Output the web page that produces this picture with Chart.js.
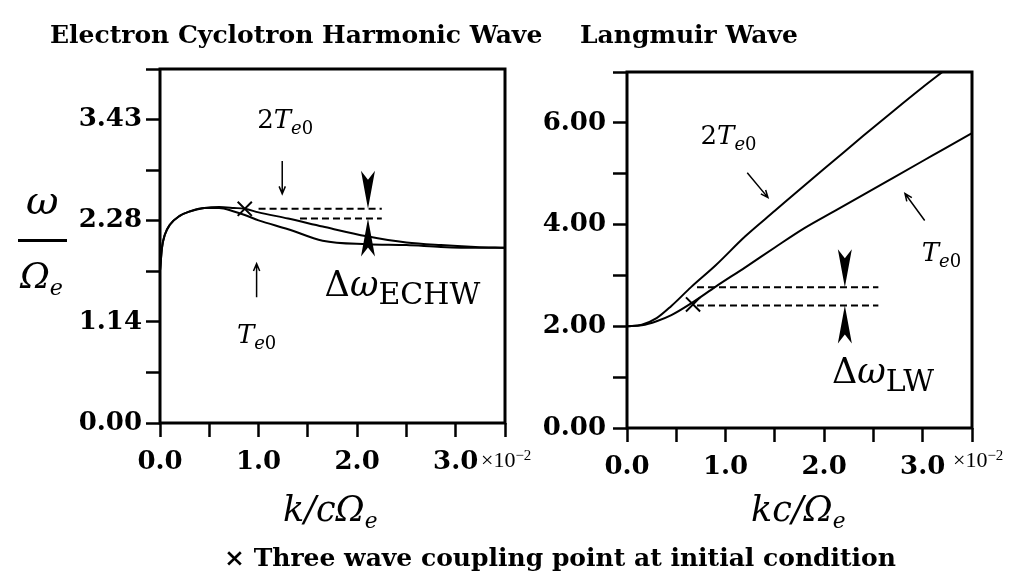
<!DOCTYPE html>
<html lang="en">
<head>
<meta charset="UTF-8">
<title>ECHW and Langmuir wave dispersion</title>
<script src="https://cdn.jsdelivr.net/npm/chart.js"></script>
<style>
    body { margin: 0; background: #fff; }
    #page { position: relative; width: 1025px; height: 572px; overflow: hidden; color: #000; }
    #page canvas { position: absolute; top: 0; }
    .txt { position: absolute; white-space: nowrap; line-height: 1; }
    .title { font: bold 25px "DejaVu Serif"; top: 20px; }
    .math { font-family: "DejaVu Serif"; font-style: italic; }
    .math sub { font-size: 0.62em; vertical-align: -0.3em; }
    .exp { font: 22px "Liberation Serif"; top: 447px; }
    .exp sup { font-size: 0.68em; vertical-align: 0.5em; }
</style>
</head>
<body>
<div id="page">
    <canvas id="echwChart" width="540" height="572" style="left:0"></canvas>
    <canvas id="lwChart" width="485" height="572" style="left:540px"></canvas>

    <div class="txt title" style="left:50px">Electron Cyclotron Harmonic Wave</div>
    <div class="txt title" style="left:580px">Langmuir Wave</div>

    <!-- omega / Omega_e fraction -->
    <div class="txt math" style="left:26px;top:180px;font-size:40px">ω</div>
    <div style="position:absolute;left:18px;top:239px;width:49px;height:2.5px;background:#000"></div>
    <div class="txt math" style="left:20px;top:258px;font-size:36px">Ω<sub>e</sub></div>

    <div class="txt math" style="left:283px;top:492px;font-size:35px">k/cΩ<sub>e</sub></div>
    <div class="txt math" style="left:751px;top:492px;font-size:35px">kc/Ω<sub>e</sub></div>

    <div class="txt exp" style="left:481px">×10<sup>−2</sup></div>
    <div class="txt exp" style="left:953px">×10<sup>−2</sup></div>

    <div class="txt" style="left:224px;top:543px;font:bold 25px 'DejaVu Serif'">× Three wave coupling point at initial condition</div>
</div>
<script>
    // ---- data (k in units of 1e-2) ----
    // Electron cyclotron harmonic wave
    const echwK   = [0.0, 0.02, 0.05, 0.1, 0.2, 0.3, 0.45, 0.6, 0.75, 0.86, 1.0, 1.3, 1.65, 2.1, 2.5, 2.85, 3.2, 3.5];
    const echw2T  = [1.72, 1.98, 2.13, 2.24, 2.34, 2.39, 2.43, 2.44, 2.43, 2.42, 2.38, 2.31, 2.22, 2.11, 2.04, 2.01, 1.99, 1.98];
    const echwT   = [1.72, 1.98, 2.13, 2.24, 2.34, 2.39, 2.43, 2.43, 2.39, 2.35, 2.29, 2.19, 2.06, 2.02, 2.01, 1.99, 1.98, 1.98];
    const echwCoupling = [0.86, 2.42];
    const echwGapLevels = [2.42, 2.31];
    const echwGapFrom = [1.0, 1.42];
    const echwGapTo = 2.25;
    const echwGapK = 2.11;

    // Langmuir wave
    const lwK  = [0.0, 0.15, 0.3, 0.45, 0.65, 0.9, 1.2, 1.5, 1.8, 2.1, 2.4, 2.7, 3.0, 3.2, 3.5];
    const lw2T = [2.0, 2.03, 2.16, 2.40, 2.77, 3.20, 3.77, 4.27, 4.77, 5.26, 5.75, 6.23, 6.70, 7.0, null];
    const lwT  = [2.0, 2.02, 2.10, 2.22, 2.45, 2.78, 3.16, 3.55, 3.93, 4.26, 4.59, 4.92, 5.25, 5.47, 5.80];
    const lwCoupling = [0.67, 2.43];
    const lwGapLevels = [2.77, 2.41];
    const lwGapFrom = [0.71, 0.71];
    const lwGapTo = 2.55;
    const lwGapK = 2.21;

    // ticks
    const xTicks  = [0, 0.5, 1.0, 1.5, 2.0, 2.5, 3.0, 3.5];
    const xLabels = ['0.0', '', '1.0', '', '2.0', '', '3.0', ''];
    const echwYTicks  = [0, 0.5714, 1.1429, 1.7143, 2.2857, 2.8571, 3.4286, 4.0];
    const echwYLabels = ['0.00', '', '1.14', '', '2.28', '', '3.43', ''];
    const lwYTicks  = [0, 1, 2, 3, 4, 5, 6, 7];
    const lwYLabels = ['0.00', '', '2.00', '', '4.00', '', '6.00', ''];

    const SERIF = '"DejaVu Serif"';

    function pairs(xs, ys) {
        return xs.map((x, i) => ({ x: x, y: ys[i] })).filter(p => p.y !== null);
    }

    // text made of pieces (italic letters, subscripts)
    function drawRich(ctx, x, y, parts, align) {
        let w = 0;
        parts.forEach(p => { ctx.font = p.font; w += ctx.measureText(p.t).width; });
        let cx = align === 'center' ? x - w / 2 : x;
        ctx.textBaseline = 'alphabetic';
        ctx.textAlign = 'left';
        parts.forEach(p => {
            ctx.font = p.font;
            ctx.fillText(p.t, cx, y + (p.dy || 0));
            cx += ctx.measureText(p.t).width;
        });
    }

    // filled notched arrowhead, dir = +1 -> base below tip (points up)
    function gapArrow(ctx, x, tipY, dir) {
        ctx.beginPath();
        ctx.moveTo(x, tipY);
        ctx.lineTo(x - 7, tipY + dir * 38);
        ctx.lineTo(x, tipY + dir * 29);
        ctx.lineTo(x + 7, tipY + dir * 38);
        ctx.closePath();
        ctx.fill();
    }

    function thinArrow(ctx, x1, y1, x2, y2) {
        const a = Math.atan2(y2 - y1, x2 - x1);
        ctx.beginPath();
        ctx.moveTo(x1, y1);
        ctx.lineTo(x2, y2);
        ctx.moveTo(x2 - 8 * Math.cos(a - 0.4), y2 - 8 * Math.sin(a - 0.4));
        ctx.lineTo(x2, y2);
        ctx.lineTo(x2 - 8 * Math.cos(a + 0.4), y2 - 8 * Math.sin(a + 0.4));
        ctx.stroke();
    }

    const decor = {
        id: 'decor',
        afterDatasetsDraw(chart, args, opts) {
            const { ctx, scales: { x, y } } = chart;
            ctx.save();
            ctx.fillStyle = '#000';
            ctx.strokeStyle = '#000';
            const gx = x.getPixelForValue(opts.gapK);
            gapArrow(ctx, gx, y.getPixelForValue(opts.gapLevels[0]), -1);
            gapArrow(ctx, gx, y.getPixelForValue(opts.gapLevels[1]), 1);
            ctx.lineWidth = 1.5;
            opts.arrows.forEach(a => thinArrow(ctx,
                x.getPixelForValue(a[0]), y.getPixelForValue(a[1]),
                x.getPixelForValue(a[2]), y.getPixelForValue(a[3])));
            opts.labels.forEach(l => drawRich(ctx,
                x.getPixelForValue(l.at[0]), y.getPixelForValue(l.at[1]), l.parts, l.align));
            ctx.restore();
        },
        afterDraw(chart) {
            const { ctx, chartArea: a } = chart;
            ctx.save();
            ctx.lineWidth = 3;
            ctx.strokeStyle = '#000';
            ctx.strokeRect(a.left, a.top, a.right - a.left, a.bottom - a.top);
            ctx.restore();
        }
    };

    const tempParts = (two) => (two ? [{ t: '2', font: '26px ' + SERIF }] : []).concat([
        { t: 'T', font: 'italic 26px ' + SERIF },
        { t: 'e', font: 'italic 18px ' + SERIF, dy: 6 },
        { t: '0', font: '18px ' + SERIF, dy: 6 }
    ]);
    const deltaParts = (sub) => [
        { t: 'Δ', font: '35px ' + SERIF },
        { t: 'ω', font: 'italic 35px ' + SERIF },
        { t: sub, font: '30px ' + SERIF, dy: 8 }
    ];

    function curve(data, extra) {
        return Object.assign({
            data: data, showLine: true, borderColor: '#000', borderWidth: 2,
            pointRadius: 0, cubicInterpolationMode: 'monotone'
        }, extra || {});
    }
    function dashed(from, to, level) {
        return curve([{ x: from, y: level }, { x: to, y: level }], { borderDash: [7, 4], cubicInterpolationMode: 'default' });
    }
    function marker(p) {
        return { data: [{ x: p[0], y: p[1] }], pointStyle: 'crossRot', pointRadius: 10,
                 borderColor: '#000', borderWidth: 2, showLine: false };
    }

    function axes(yMax, yTicks, yLabels, yWidth, xHeight, yPad) {
        const tickFont = { family: 'DejaVu Serif', weight: 'bold', size: 26 };
        const grid = { drawOnChartArea: false, tickLength: 14, tickWidth: 2.5, tickColor: '#000' };
        return {
            x: {
                type: 'linear', min: 0, max: 3.5,
                afterBuildTicks: s => { s.ticks = xTicks.map(v => ({ value: v })); },
                afterFit: s => { s.height = xHeight; },
                ticks: { callback: (v, i) => xLabels[i], font: tickFont, color: '#000', padding: 10, maxRotation: 0, autoSkip: false },
                grid: grid, border: { display: false }
            },
            y: {
                type: 'linear', min: 0, max: yMax,
                afterBuildTicks: s => { s.ticks = yTicks.map(v => ({ value: v })); },
                afterFit: s => { s.width = yWidth; },
                ticks: { callback: (v, i) => yLabels[i], font: tickFont, color: '#000', padding: yPad, autoSkip: false },
                grid: grid, border: { display: false }
            }
        };
    }

    new Chart(document.getElementById('echwChart'), {
        type: 'scatter',
        data: {
            datasets: [
                curve(pairs(echwK, echw2T)),
                curve(pairs(echwK, echwT)),
                dashed(echwGapFrom[0], echwGapTo, echwGapLevels[0]),
                dashed(echwGapFrom[1], echwGapTo, echwGapLevels[1]),
                marker(echwCoupling)
            ]
        },
        options: {
            responsive: false, animation: false,
            layout: { padding: { top: 69, right: 35, left: 0, bottom: 0 } },
            scales: axes(4.0, echwYTicks, echwYLabels, 160, 149, 4),
            plugins: {
                legend: { display: false }, tooltip: { enabled: false },
                decor: {
                    gapK: echwGapK, gapLevels: echwGapLevels,
                    arrows: [[1.24, 2.96, 1.24, 2.59], [0.98, 1.42, 0.98, 1.80]],
                    labels: [
                        { at: [1.27, 3.33], parts: tempParts(true), align: 'center' },
                        { at: [0.98, 0.90], parts: tempParts(false), align: 'center' },
                        { at: [1.67, 1.44], parts: deltaParts('ECHW'), align: 'left' }
                    ]
                }
            }
        },
        plugins: [decor]
    });

    new Chart(document.getElementById('lwChart'), {
        type: 'scatter',
        data: {
            datasets: [
                curve(pairs(lwK, lw2T)),
                curve(pairs(lwK, lwT)),
                dashed(lwGapFrom[0], lwGapTo, lwGapLevels[0]),
                dashed(lwGapFrom[1], lwGapTo, lwGapLevels[1]),
                marker(lwCoupling)
            ]
        },
        options: {
            responsive: false, animation: false,
            layout: { padding: { top: 72, right: 53, left: 0, bottom: 0 } },
            scales: axes(7.0, lwYTicks, lwYLabels, 87, 144, 7),
            plugins: {
                legend: { display: false }, tooltip: { enabled: false },
                decor: {
                    gapK: lwGapK, gapLevels: lwGapLevels,
                    arrows: [[1.22, 5.02, 1.43, 4.53], [3.02, 4.08, 2.82, 4.61]],
                    labels: [
                        { at: [1.03, 5.59], parts: tempParts(true), align: 'center' },
                        { at: [3.19, 3.29], parts: tempParts(false), align: 'center' },
                        { at: [2.08, 0.88], parts: deltaParts('LW'), align: 'left' }
                    ]
                }
            }
        },
        plugins: [decor]
    });
</script>
</body>
</html>
